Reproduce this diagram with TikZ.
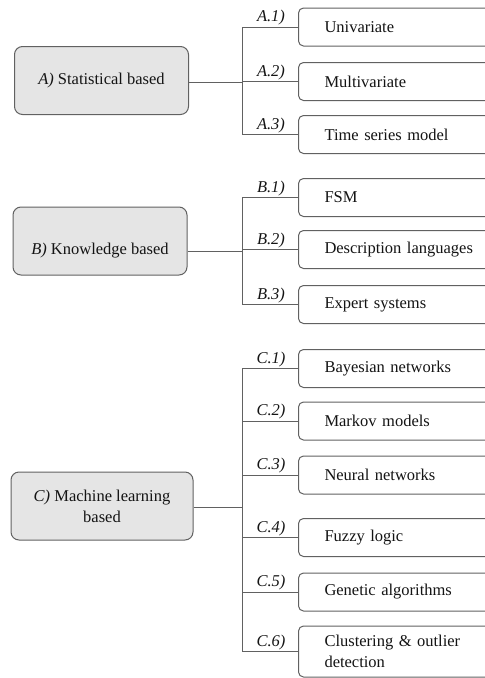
\documentclass[tikz,border=0pt]{standalone}
\usepackage{fontspec}
\setmainfont{Liberation Serif}
\usetikzlibrary{positioning}

\begin{document}
\begin{tikzpicture}[
  x=1pt,y=-1pt,
  every node/.style={font=\fontsize{16.5}{21}\selectfont,text=black!92},
  family/.style={
    draw=black!62,
    line width=1pt,
    rounded corners=8pt,
    fill=black!10,
    align=center,
    minimum width=174pt,
    minimum height=68pt,
    inner sep=3pt
  },
  method/.style={
    draw=black!62,
    line width=1pt,
    rounded corners=5pt,
    fill=white,
    anchor=west,
    align=left,
    text width=230pt,
    minimum height=38pt,
    inner xsep=26pt,
    inner ysep=2pt
  },
  branch/.style={draw=black!62,line width=1pt},
  tag/.style={
    font=\fontsize{16.5}{20}\itshape,
    above,
    inner sep=1pt,
    xshift=1pt
  }
]
  \useasboundingbox (0,0) rectangle (485,678);
  \clip (0,0) rectangle (485,678);

  % families
  \node[family] (sb) at (101.5,80.5) {\textit{A)} Statistical based};
  \node[family,text height=29pt,text depth=3pt] (kb) at (100,241)
    {\textit{B)} Knowledge based};
  \node[family,minimum width=182pt] (ml) at (102,506)
    {\textit{C)} Machine learning\\based};

  % methods
  \node[method] (sb-uni) at (298,27) {Univariate};
  \node[method] (sb-multi) at (298,81.5) {Multivariate};
  \node[method] (sb-ts) at (298,134.5) {Time series model};

  \node[method] (kb-fsm) at (298,197.5) {FSM};
  \node[method] (kb-desc) at (298,249.5) {Description languages};
  \node[method] (kb-expert) at (298,304.5) {Expert systems};

  \node[method] (ml-bayes) at (298,368.5) {Bayesian networks};
  \node[method] (ml-markov) at (298,421) {Markov models};
  \node[method] (ml-neural) at (298,475) {Neural networks};
  \node[method] (ml-fuzzy) at (298,537.5) {Fuzzy logic};
  \node[method] (ml-genetic) at (298,592) {Genetic algorithms};
  \node[method,minimum height=51pt] (ml-cluster) at (298,651.5)
    {Clustering \& outlier\\detection};

  \coordinate (sb-fork) at (242,82);
  \coordinate (kb-fork) at (242,251);
  \coordinate (ml-fork) at (242,507);

  % A
  \draw[branch] (sb.east |- sb-fork)--(sb-fork);
  \draw[branch] (sb-fork |- sb-uni.west)--(sb-fork |- sb-ts.west);
  \draw[branch] (sb-fork |- sb-uni.west)--node[tag]{A.1)}(sb-uni.west);
  \draw[branch] (sb-fork |- sb-multi.west)--node[tag]{A.2)}(sb-multi.west);
  \draw[branch] (sb-fork |- sb-ts.west)--node[tag]{A.3)}(sb-ts.west);

  % B
  \draw[branch] (kb.east |- kb-fork)--(kb-fork);
  \draw[branch] (kb-fork |- kb-fsm.west)--(kb-fork |- kb-expert.west);
  \draw[branch] (kb-fork |- kb-fsm.west)--node[tag]{B.1)}(kb-fsm.west);
  \draw[branch] (kb-fork |- kb-desc.west)--node[tag]{B.2)}(kb-desc.west);
  \draw[branch] (kb-fork |- kb-expert.west)--node[tag]{B.3)}(kb-expert.west);

  % C
  \draw[branch] (ml.east |- ml-fork)--(ml-fork);
  \draw[branch] (ml-fork |- ml-bayes.west)--(ml-fork |- ml-cluster.west);
  \draw[branch] (ml-fork |- ml-bayes.west)--node[tag]{C.1)}(ml-bayes.west);
  \draw[branch] (ml-fork |- ml-markov.west)--node[tag]{C.2)}(ml-markov.west);
  \draw[branch] (ml-fork |- ml-neural.west)--node[tag]{C.3)}(ml-neural.west);
  \draw[branch] (ml-fork |- ml-fuzzy.west)--node[tag]{C.4)}(ml-fuzzy.west);
  \draw[branch] (ml-fork |- ml-genetic.west)--node[tag]{C.5)}(ml-genetic.west);
  \draw[branch] (ml-fork |- ml-cluster.west)--node[tag]{C.6)}(ml-cluster.west);
\end{tikzpicture}
\end{document}
